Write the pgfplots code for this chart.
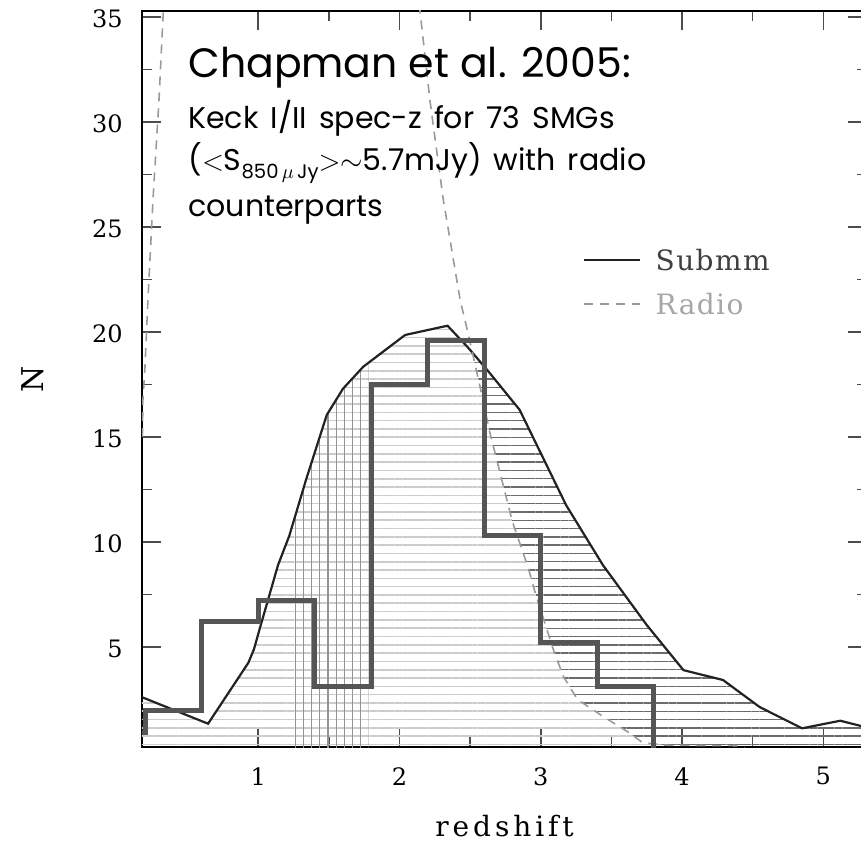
\documentclass[border=0pt]{standalone}
\usepackage{pgfplots}
\pgfplotsset{compat=1.18}
\usepackage{pgfplotstable}
\usepgfplotslibrary{fillbetween}
\usetikzlibrary{patterns.meta}
\usepackage{fontspec}
\setmainfont{Poppins}
\newfontfamily\fut[WordSpace=1.5]{Poppins}
\newfontfamily\dvs{DejaVu Serif}
\newfontfamily\dvsx[LetterSpace=14]{DejaVu Serif}
\newfontfamily\dvsl[LetterSpace=5]{DejaVu Serif}
\definecolor{histc}{HTML}{555555}
\definecolor{subc}{HTML}{222222}
\definecolor{radc}{HTML}{9A9A9A}

\pgfplotstableread{
x y
0.0 0.95
0.2 2.0
0.6 6.2
1.0 7.2
1.4 3.1
1.8 17.5
2.2 19.6
2.6 10.3
3.0 5.2
3.4 3.1
3.8 -1
5.5 -1
}\hist

\pgfplotstableread{
x y
0.17 2.63
0.645 1.35
0.93 4.25
0.97 4.9
1.01 5.86
1.14 8.9
1.22 10.3
1.34 13.0
1.485 16.05
1.6 17.3
1.744 18.35
2.04 19.86
2.34 20.3
2.48 19.3
2.62 18.2
2.85 16.3
3.18 11.75
3.44 8.9
3.75 6.05
4.01 3.9
4.29 3.43
4.55 2.14
4.85 1.13
5.12 1.49
5.35 1.1
}\submm

\pgfplotstableread{
x y
0.18 15
0.184 16.8
0.198 18.3
0.219 21.5
0.255 26.3
0.297 31.0
0.326 35.0
0.36 40
2.1 40
2.145 35.3
2.216 31.0
2.31 26.3
2.43 21.5
2.485 19.95
2.57 17.4
2.64 15.2
2.80 10.95
2.91 8.8
2.96 7.6
3.09 4.86
3.16 3.6
3.26 2.5
3.44 1.7
3.63 0.9
3.72 0.45
3.9 0.32
4.4 0.30
4.5 0.0
5.5 0.0
}\radio

\begin{document}
\begin{tikzpicture}
\begin{axis}[
  scale only axis, width=362.5pt, height=368pt,
  xmin=0.177, xmax=5.31, ymin=0.238, ymax=35.29,
  xtick={1,2,3,4,5}, ytick={5,10,15,20,25,30,35},
  minor x tick num=1, minor y tick num=1,
  tick align=inside,
  major tick length=9.5pt, minor tick length=5pt,
  tick style={black!70, line width=0.75pt},
  axis line style={black, line width=0.8pt},
  tick label style={font=\dvs\fontsize{12}{14}\selectfont, /pgf/number format/assume math mode=true},
  xticklabel style={inner sep=0pt, yshift=-10pt},
  yticklabel style={inner sep=0pt, xshift=-9.5pt, yshift=-1pt},
  xlabel={redshift}, ylabel={N},
  xlabel style={font=\dvsx\fontsize{14}{16}\selectfont, at={(axis description cs:0.5,-0.121)}, anchor=base},
  ylabel style={font=\dvs\fontsize{15}{16}\selectfont, at={(axis description cs:-0.150,0.5)}, anchor=center},
  legend style={draw=none, fill=none, at={(axis description cs:0.607,0.675)}, anchor=north west,
    inner sep=0pt, row sep=9pt,
    nodes={inner sep=0pt, text height=10pt, text depth=3pt, font=\dvsl\fontsize{14}{16}\selectfont}},
  legend image code/.code={\draw[#1] (0pt,1.8pt) -- (28pt,1.8pt); \path (35.5pt,0pt);},
  legend cell align=left,
]
\addplot[draw=none, name path=base, forget plot] coordinates {(0,0) (5.5,0)};
\addplot[draw=none, name path=subp, forget plot] table {\submm};
\addplot[draw=none, name path=radp, forget plot] table {\radio};

\addplot[pattern={Lines[angle=0,distance=4.15pt,line width=0.8pt]}, pattern color=black!20, forget plot]
  fill between[of=subp and base, soft clip={domain=0.1:2.515}];
\addplot[pattern={Lines[angle=0,distance=4.15pt,line width=0.8pt]}, pattern color=black!20, forget plot]
  fill between[of=radp and base, soft clip={domain=2.515:5.5}];
\addplot[pattern={Lines[angle=0,distance=4.15pt,line width=0.7pt]}, pattern color=black!58, forget plot]
  fill between[of=subp and radp, soft clip={domain=2.515:5.5}];
\addplot[pattern={Lines[angle=90,distance=4.1pt,line width=0.6pt]}, pattern color=black!42, forget plot]
  fill between[of=subp and base, soft clip={domain=1.24:1.78}];

\addplot[subc, line width=1.1pt] table {\submm};
\addlegendentry{\textcolor{black!75}{Submm}}
\addplot[radc, line width=0.8pt, dash pattern=on 4.5pt off 3.5pt] table {\radio};
\addlegendentry{\textcolor{black!35}{Radio}}
\addplot[histc, line width=2.5pt, const plot, forget plot] table {\hist};

\node[anchor=base west, inner sep=0pt, font=\fontsize{20.5}{24}\selectfont] at (axis cs:0.503,32.14) {Chapman et al. 2005:};
\node[anchor=base west, inner sep=0pt, font=\fut\fontsize{15}{17}\selectfont] at (axis cs:0.503,29.71) {Keck I/II spec-z for 73 SMGs};
\node[anchor=base west, inner sep=0pt, font=\fut\fontsize{15}{17}\selectfont] at (axis cs:0.503,27.71) {($<$S\raisebox{-4pt}{\fontsize{9.8}{10}\selectfont 850\,$\mu$\,Jy}$>\sim$5.7mJy) with radio};
\node[anchor=base west, inner sep=0pt, font=\fut\fontsize{15}{17}\selectfont] at (axis cs:0.503,25.52) {counterparts};

\coordinate (bbl) at (axis cs:-0.828,-4.381);
\coordinate (btr) at (axis cs:5.267,35.81);
\end{axis}
\pgfresetboundingbox
\useasboundingbox (bbl) rectangle (btr);
\end{tikzpicture}
\end{document}
